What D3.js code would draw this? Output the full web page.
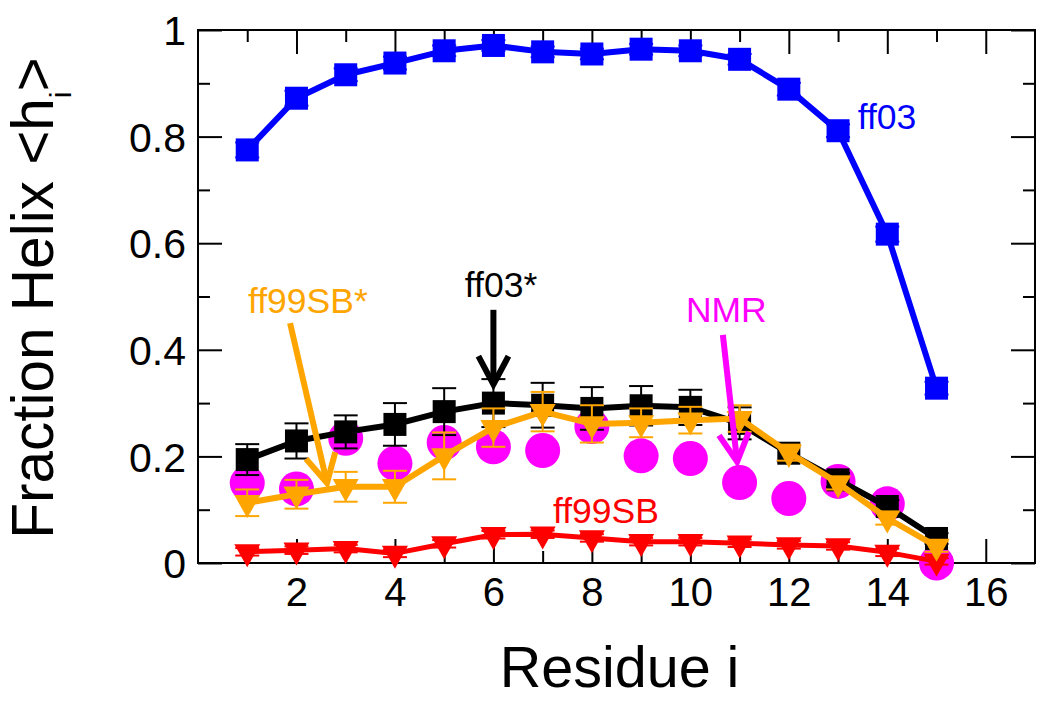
<!DOCTYPE html>
<html><head><meta charset="utf-8">
<script src="https://cdn.jsdelivr.net/npm/d3@7"></script>
<style>
body{margin:0;background:#fff}
svg{display:block}
text{font-family:"Liberation Sans",Arial,Helvetica,sans-serif}
</style>
</head><body>
<svg id="chart" width="1050" height="708"></svg>
<script>
// ---- data ----
const residues = [1,2,3,4,5,6,7,8,9,10,11,12,13,14,15];
const ff03     = [0.775,0.872,0.916,0.938,0.961,0.971,0.959,0.955,0.964,0.961,0.945,0.889,0.811,0.617,0.328];
const ff03Err  = [0.014,0.014,0.012,0.012,0.010,0.010,0.010,0.010,0.010,0.010,0.010,0.012,0.012,0.014,0.012];
const ff03s    = [0.194,0.229,0.246,0.260,0.284,0.300,0.296,0.290,0.295,0.292,0.262,0.206,0.156,0.106,0.046];
const ff03sErr = [0.029,0.033,0.031,0.040,0.044,0.045,0.042,0.040,0.037,0.033,0.030,0.015,0.013,0.012,0.010];
const ff99s    = [0.113,0.129,0.143,0.143,0.201,0.254,0.284,0.261,0.263,0.268,0.271,0.207,0.150,0.084,0.031];
const ff99sErr = [0.025,0.027,0.028,0.030,0.044,0.036,0.037,0.035,0.027,0.025,0.025,0.015,0.012,0.012,0.010];
const ff99     = [0.021,0.024,0.027,0.018,0.036,0.053,0.054,0.047,0.040,0.040,0.037,0.034,0.032,0.020,0.003];
const ff99Err  = [0.007,0.007,0.007,0.007,0.007,0.007,0.007,0.007,0.007,0.007,0.007,0.007,0.007,0.007,0.006];
const nmr      = [0.150,0.139,0.234,0.187,0.226,0.218,0.211,0.256,0.201,0.196,0.151,0.121,0.153,0.111,0.000];

const xMajorTicks = [2,4,6,8,10,12,14,16];
const xMinorTicks = [1,3,5,7,9,11,13,15];
const yMajorTicks = [0,0.2,0.4,0.6,0.8,1];
const yMinorTicks = [0.1,0.3,0.5,0.7,0.9];

// ---- layout ----
const svg = d3.select("#chart");
const L = 198, R = 1035, T = 30, B = 563;
const x = d3.scaleLinear().domain([0,17]).range([L,R]);
const y = d3.scaleLinear().domain([0,1]).range([B,T]);

function styleAxis(g, fs){
  g.attr("font-family",'"Liberation Sans",Arial,sans-serif').attr("font-size",fs);
  g.selectAll(".domain").remove();
  g.selectAll(".tick line").attr("stroke","#000").attr("stroke-width",2);
  g.selectAll(".tick text").attr("fill","#000");
}
// bottom
svg.append("g").attr("transform",`translate(0,${B})`)
  .call(d3.axisBottom(x).tickValues(xMajorTicks).tickSize(-24).tickPadding(15).tickFormat(d3.format("d")))
  .call(g=>styleAxis(g,40));
svg.append("g").attr("transform",`translate(0,${B})`)
  .call(d3.axisBottom(x).tickValues(xMinorTicks).tickSize(-12).tickFormat(""))
  .call(g=>styleAxis(g,40));
// top
svg.append("g").attr("transform",`translate(0,${T})`)
  .call(d3.axisTop(x).tickValues(xMajorTicks).tickSize(-24).tickFormat(""))
  .call(g=>styleAxis(g,40));
svg.append("g").attr("transform",`translate(0,${T})`)
  .call(d3.axisTop(x).tickValues(xMinorTicks).tickSize(-12).tickFormat(""))
  .call(g=>styleAxis(g,40));
// left
svg.append("g").attr("transform",`translate(${L},0)`)
  .call(d3.axisLeft(y).tickValues(yMajorTicks).tickSize(-24).tickPadding(12).tickFormat(d3.format("~g")))
  .call(g=>styleAxis(g,41))
  .call(g=>g.selectAll(".tick text").attr("dy","0.36em"));
svg.append("g").attr("transform",`translate(${L},0)`)
  .call(d3.axisLeft(y).tickValues(yMinorTicks).tickSize(-12).tickFormat(""))
  .call(g=>styleAxis(g,41));
// right
svg.append("g").attr("transform",`translate(${R},0)`)
  .call(d3.axisRight(y).tickValues(yMajorTicks).tickSize(-24).tickFormat(""))
  .call(g=>styleAxis(g,41));
svg.append("g").attr("transform",`translate(${R},0)`)
  .call(d3.axisRight(y).tickValues(yMinorTicks).tickSize(-12).tickFormat(""))
  .call(g=>styleAxis(g,41));
// frame
svg.append("rect").attr("x",L).attr("y",T).attr("width",R-L).attr("height",B-T)
  .attr("fill","none").attr("stroke","#000").attr("stroke-width",2);

// axis titles
svg.append("text").attr("x",(L+R)/2+3).attr("y",687).attr("text-anchor","middle")
  .attr("font-size",57.5).attr("fill","#000").text("Residue i");
const yt = svg.append("text").attr("transform",`translate(53,${(T+B)/2+1.5}) rotate(-90)`)
  .attr("text-anchor","middle").attr("font-size",58.5).attr("fill","#000");
yt.append("tspan").text("Fraction Helix <h");
yt.append("tspan").attr("font-size",30).attr("dy",18).text("i");
yt.append("tspan").attr("dy",-18).text(">");

// ---- series ----
function zip(vals, errs){ return residues.map((r,i)=>({r, v:vals[i], e: errs? errs[i]:0})); }
const line = d3.line().x(d=>x(d.r)).y(d=>y(d.v));
const tri = (w,h)=>`M${-w/2},${-h/3}L${w/2},${-h/3}L0,${2*h/3}Z`;

function drawSeries(data, color, lw, marker, withErr){
  const g = svg.append("g");
  if (lw>0) g.append("path").datum(data).attr("d",line).attr("fill","none")
     .attr("stroke",color).attr("stroke-width",lw).attr("stroke-linejoin","round");
  if (withErr){
    const eg = g.append("g").attr("stroke",color).attr("stroke-width",2);
    data.forEach(d=>{
      const cx = x(d.r), y0 = y(d.v-d.e), y1 = y(d.v+d.e);
      eg.append("line").attr("x1",cx).attr("x2",cx).attr("y1",y0).attr("y2",y1);
      eg.append("line").attr("x1",cx-12).attr("x2",cx+12).attr("y1",y0).attr("y2",y0);
      eg.append("line").attr("x1",cx-12).attr("x2",cx+12).attr("y1",y1).attr("y2",y1);
    });
  }
  const mg = g.append("g").attr("fill",color);
  data.forEach(d=>{
    const cx = x(d.r), cy = y(d.v);
    if (marker==="square") mg.append("rect").attr("x",cx-11.5).attr("y",cy-11.5).attr("width",23).attr("height",23);
    else if (marker==="tri") mg.append("path").attr("transform",`translate(${cx},${cy})`).attr("d",tri(26,23));
    else if (marker==="circle") mg.append("circle").attr("cx",cx).attr("cy",cy).attr("r",17.5);
  });
}
drawSeries(zip(nmr,null), "#ff00ff", 0, "circle", false);
drawSeries(zip(ff99,ff99Err), "#ff0000", 5, "tri", true);
drawSeries(zip(ff03s,ff03sErr), "#000000", 6, "square", true);
drawSeries(zip(ff99s,ff99sErr), "#ffa500", 6, "tri", true);
drawSeries(zip(ff03,ff03Err), "#0000ff", 6, "square", true);

// ---- annotations ----
function label(txt, xv, yv, color, anchor){
  svg.append("text").attr("x",x(xv)).attr("y",y(yv)).attr("text-anchor",anchor||"start")
    .attr("font-size",35.5).attr("fill",color).text(txt);
}
function arrow(x0,y0,x1,y1,color){
  const px0=x(x0), py0=y(y0), px1=x(x1), py1=y(y1);
  const a = Math.atan2(py0-py1, px0-px1), len=32, th=28*Math.PI/180;
  const g = svg.append("g").attr("stroke",color).attr("stroke-width",6).attr("fill","none");
  g.append("line").attr("x1",px0).attr("y1",py0).attr("x2",px1).attr("y2",py1);
  g.append("path").attr("d",`M${px1+len*Math.cos(a+th)},${py1+len*Math.sin(a+th)}L${px1},${py1}L${px1+len*Math.cos(a-th)},${py1+len*Math.sin(a-th)}`)
    .attr("stroke-linejoin","miter");
}
label("ff03", 13.40, 0.814, "#0000ff");
label("ff99SB*", 1.015, 0.469, "#ffa500");
label("ff03*", 5.42, 0.499, "#000000");
label("NMR", 9.91, 0.452, "#ff00ff");
label("ff99SB", 7.21, 0.075, "#ff0000");
arrow(1.87, 0.450, 2.62, 0.150, "#ffa500");
arrow(6.0, 0.475, 6.0, 0.335, "#000000");
arrow(10.66, 0.428, 10.95, 0.190, "#ff00ff");
</script>
</body></html>
